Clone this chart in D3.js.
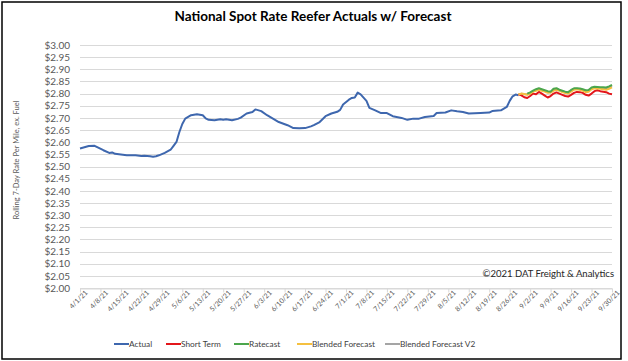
<!DOCTYPE html>
<meta charset="utf-8" />
<style>
  body {
    background: #fff;
    margin: 0px;
  }

  text {
    font-family: Lato, "Open Sans", sans-serif;
  }

  .grid line {
    stroke: #d9d9d9;
    stroke-width: 1px;
  }

  .series {
    fill: none;
    stroke-width: 2px;
    stroke-linejoin: round;
  }
</style>
<body></body>
<script src="https://d3js.org/d3.v7.min.js"></script>
<script>
  var width = 628,
    height = 361;

  // actual rolling 7-day rate
  var actualDates = [
    "4/1", "4/4", "4/6", "4/9", "4/11", "4/12", "4/13", "4/15", "4/17", "4/20",
    "4/22", "4/23", "4/25", "4/26", "4/27", "4/28", "4/30", "5/2", "5/3", "5/4",
    "5/5", "5/6", "5/7", "5/9", "5/11", "5/13", "5/14", "5/15", "5/17", "5/19",
    "5/20", "5/21", "5/23", "5/25", "5/26", "5/28", "5/30", "5/31", "6/2", "6/4",
    "6/6", "6/8", "6/11", "6/13", "6/15", "6/17", "6/19", "6/20", "6/22", "6/24",
    "6/26", "6/28", "6/29", "6/30", "7/2", "7/3", "7/4", "7/5", "7/6", "7/8",
    "7/9", "7/11", "7/13", "7/15", "7/17", "7/20", "7/22", "7/24", "7/26", "7/28",
    "7/31", "8/1", "8/4", "8/6", "8/8", "8/10", "8/12", "8/16", "8/19", "8/20",
    "8/23", "8/25", "8/26", "8/27", "8/28", "8/29"
  ];
  var actualValues = [
    2.574, 2.584, 2.585, 2.567, 2.556, 2.558, 2.552, 2.549, 2.546, 2.546,
    2.543, 2.544, 2.542, 2.540, 2.542, 2.546, 2.556, 2.569, 2.585, 2.601,
    2.642, 2.675, 2.697, 2.711, 2.715, 2.711, 2.698, 2.692, 2.690, 2.694,
    2.692, 2.694, 2.690, 2.696, 2.701, 2.718, 2.724, 2.735, 2.728, 2.711,
    2.697, 2.683, 2.670, 2.658, 2.657, 2.658, 2.665, 2.670, 2.683, 2.707,
    2.718, 2.725, 2.733, 2.755, 2.775, 2.782, 2.784, 2.804, 2.797, 2.770,
    2.741, 2.731, 2.720, 2.720, 2.707, 2.700, 2.692, 2.697, 2.697, 2.704,
    2.708, 2.720, 2.722, 2.731, 2.727, 2.724, 2.718, 2.720, 2.722, 2.728,
    2.731, 2.745, 2.770, 2.789, 2.796, 2.793
  ];

  // forecasts, daily from 8/29 to 9/30
  var forecastStart = "8/29";
  var shortTerm = [
    2.797, 2.793, 2.785, 2.782, 2.790, 2.800, 2.797, 2.807, 2.800, 2.792,
    2.784, 2.790, 2.800, 2.805, 2.800, 2.795, 2.790, 2.788, 2.795, 2.803,
    2.807, 2.806, 2.803, 2.795, 2.792, 2.800, 2.810, 2.814, 2.810, 2.808,
    2.806, 2.800, 2.797
  ];
  var ratecast = [
    null, null, null, 2.800, 2.805, 2.812, 2.818, 2.822, 2.818, 2.814,
    2.810, 2.808, 2.820, 2.822, 2.816, 2.812, 2.808, 2.806, 2.815, 2.822,
    2.822, 2.821, 2.818, 2.814, 2.815, 2.825, 2.828, 2.827, 2.826, 2.826,
    2.825, 2.830, 2.836
  ];
  var blended = [
    2.796, 2.800, 2.798, 2.795, 2.800, 2.808, 2.812, 2.816, 2.812, 2.808,
    2.803, 2.804, 2.812, 2.816, 2.812, 2.806, 2.802, 2.800, 2.808, 2.816,
    2.818, 2.816, 2.812, 2.806, 2.808, 2.818, 2.822, 2.821, 2.820, 2.818,
    2.816, 2.820, 2.826
  ];
  var blendedV2 = [
    2.796, 2.799, 2.797, 2.797, 2.802, 2.810, 2.815, 2.819, 2.815, 2.811,
    2.806, 2.806, 2.816, 2.819, 2.814, 2.809, 2.805, 2.803, 2.812, 2.819,
    2.820, 2.818, 2.815, 2.810, 2.811, 2.821, 2.825, 2.824, 2.823, 2.822,
    2.820, 2.825, 2.831
  ];

  var seriesNames = ["Actual", "Short Term", "Ratecast", "Blended Forecast", "Blended Forecast V2"];
  var seriesColors = ["#3E67AE", "#E3161B", "#4CA64C", "#F5C040", "#A5A5A5"];

  var parse = function (s) {
    var p = s.split("/");
    return new Date(2021, +p[0] - 1, +p[1]);
  };

  var x = d3
    .scaleTime()
    .domain([new Date(2021, 3, 1), new Date(2021, 8, 30)])
    .range([80, 612]);

  var y = d3.scaleLinear().domain([2, 3]).range([288, 45]);

  var svg = d3
    .select("body")
    .append("svg")
    .attr("width", width)
    .attr("height", height);

  // outer frame
  svg
    .append("rect")
    .attr("x", 2)
    .attr("y", 2)
    .attr("width", 619)
    .attr("height", 357)
    .attr("fill", "#fff")
    .attr("stroke", "#000")
    .attr("stroke-width", 1.5);

  svg
    .append("text")
    .attr("x", 313)
    .attr("y", 21)
    .attr("text-anchor", "middle")
    .style("font-size", "13.5px")
    .style("font-weight", "bold")
    .attr("fill", "#000")
    .text("National Spot Rate Reefer Actuals w/ Forecast");

  // horizontal gridlines + y labels
  var yTicks = d3.range(0, 21).map(function (i) {
    return 2 + i * 0.05;
  });

  svg
    .append("g")
    .attr("class", "grid")
    .selectAll("line")
    .data(yTicks)
    .enter()
    .append("line")
    .attr("x1", 80)
    .attr("x2", 612)
    .attr("y1", function (d) {
      return Math.round(y(d)) + 0.5;
    })
    .attr("y2", function (d) {
      return Math.round(y(d)) + 0.5;
    });

  var yAxis = svg
    .append("g")
    .attr("transform", "translate(80,0)")
    .call(d3.axisLeft(y).tickValues(yTicks).tickFormat(d3.format("$.2f")).tickSize(0).tickPadding(10));
  yAxis.select(".domain").remove();
  yAxis
    .selectAll("text")
    .style("font-size", "10px")
    .style("font-family", "Lato, sans-serif")
    .attr("fill", "#595959");

  svg
    .append("text")
    .attr("transform", "translate(19,160) rotate(-90)")
    .attr("text-anchor", "middle")
    .style("font-size", "7.5px")
    .attr("fill", "#595959")
    .text("Rolling 7-Day Rate Per Mile, ex. Fuel");

  // x axis, weekly ticks
  var xTicks = d3.timeDay.range(new Date(2021, 3, 1), new Date(2021, 9, 1), 7);
  var xAxis = svg
    .append("g")
    .attr("transform", "translate(0," + (Math.round(y(2)) + 0.5) + ")")
    .call(d3.axisBottom(x).tickValues(xTicks).tickFormat(d3.timeFormat("%-m/%-d/%y")).tickSize(4).tickSizeOuter(0));
  xAxis.selectAll(".domain, line").attr("stroke", "#d9d9d9");
  xAxis
    .selectAll("text")
    .style("font-size", "7px")
    .style("font-family", "Lato, sans-serif")
    .attr("fill", "#595959")
    .attr("text-anchor", "end")
    .attr("transform", "translate(1,-2) rotate(-45)")
    .attr("dy", "0.35em");

  svg
    .append("text")
    .attr("x", 614)
    .attr("y", 277)
    .attr("text-anchor", "end")
    .style("font-size", "9.5px")
    .attr("fill", "#262626")
    .text("©2021 DAT Freight & Analytics");

  // series
  var line = d3
    .line()
    .defined(function (d) {
      return d[1] != null;
    })
    .x(function (d) {
      return x(d[0]);
    })
    .y(function (d) {
      return y(d[1]);
    });

  var actual = actualDates.map(function (d, i) {
    return [parse(d), actualValues[i]];
  });

  var f0 = parse(forecastStart);
  function forecast(values) {
    return values.map(function (v, i) {
      return [d3.timeDay.offset(f0, i), v];
    });
  }

  var lines = [
    { data: forecast(blendedV2), color: seriesColors[4] },
    { data: actual, color: seriesColors[0] },
    { data: forecast(shortTerm), color: seriesColors[1] },
    { data: forecast(blended), color: seriesColors[3] },
    { data: forecast(ratecast), color: seriesColors[2] },
  ];

  svg
    .selectAll(".series")
    .data(lines)
    .enter()
    .append("path")
    .attr("class", "series")
    .attr("stroke", function (d) {
      return d.color;
    })
    .attr("d", function (d) {
      return line(d.data);
    });

  // legend
  var legendX = [114, 166, 234, 297, 385];
  var legend = svg
    .append("g")
    .selectAll("g")
    .data(seriesNames)
    .enter()
    .append("g")
    .attr("transform", function (d, i) {
      return "translate(" + legendX[i] + ",344)";
    });

  legend
    .append("line")
    .attr("x1", 0)
    .attr("x2", 15)
    .attr("stroke-width", 2)
    .attr("stroke", function (d, i) {
      return seriesColors[i];
    });

  legend
    .append("text")
    .attr("x", 15)
    .attr("dy", "0.35em")
    .style("font-size", "8.3px")
    .attr("fill", "#404040")
    .text(function (d) {
      return d;
    });
</script>
